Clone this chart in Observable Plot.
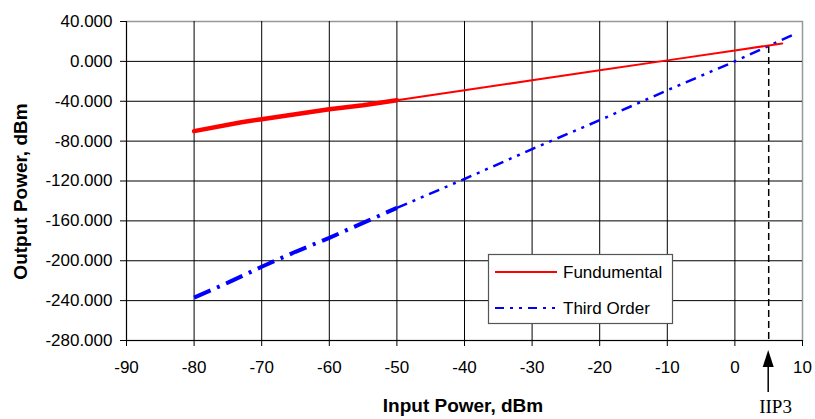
<!DOCTYPE html>
<html>
<head>
<meta charset="utf-8">
<script src="https://cdn.jsdelivr.net/npm/d3@7"></script>
<script src="https://cdn.jsdelivr.net/npm/@observablehq/plot@0.6"></script>
<style>
  html, body { margin: 0; padding: 0; background: #fff; }
</style>
</head>
<body>
<div id="chart"></div>
<script>
// Fundamental output tone vs. input drive (dBm)
const fundInput  = [-80, -73, -70, -65, -60, -55, -50, -40, -30, -20, -10, 0, 7];
const fundOutput = [-70, -61, -58, -53, -48, -44, -39, -29, -19, -9, 1, 11, 18];

// Third-order intermod product vs. input drive (dBm)
const thirdInput  = [-80, -75, -70, -65, -60, -55, -50, -40, -30, -20, -10, 0, 8.7];
const thirdOutput = [-237, -222, -206, -191, -177, -162, -147, -118, -88, -59, -29, 0, 27];

// Dense sweep region (drawn heavier) ends here
const denseSweepEnd = -50;

// Input-referred third-order intercept
const iip3Input = 5;
const iip3Output = 15;
const iip3Label = "IIP3";

const seriesNames = ["Fundumental", "Third Order"];
const xTicks = [-90, -80, -70, -60, -50, -40, -30, -20, -10, 0, 10];
const yTicks = [40, 0, -40, -80, -120, -160, -200, -240, -280];
const xTitle = "Input Power, dBm";
const yTitle = "Output Power, dBm";

const rows = (xs, ys) => xs.map((x, i) => ({x, y: ys[i]}));
const fund = rows(fundInput, fundOutput);
const third = rows(thirdInput, thirdOutput);
const dense = d => d.x <= denseSweepEnd;
const sparse = d => d.x >= denseSweepEnd;

const red = "#ff0000";
const blue = "#0000ff";
const font = "'Liberation Sans', Arial, sans-serif";

// IIP3 arrow below the axis and the boxed legend inside the frame
function annotations(index, scales, values, dims) {
  const g = d3.create("svg:g").attr("text-anchor", "start");
  const ax = scales.x(iip3Input);
  const bottom = dims.height - dims.marginBottom;
  g.append("line")
    .attr("x1", ax).attr("x2", ax)
    .attr("y1", bottom + 52).attr("y2", bottom + 24)
    .attr("stroke", "#000").attr("stroke-width", 1.5);
  g.append("path")
    .attr("d", `M${ax},${bottom + 10}L${ax - 5.5},${bottom + 27}L${ax + 5.5},${bottom + 27}Z`)
    .attr("fill", "#000");
  g.append("text")
    .attr("x", ax - 9).attr("y", bottom + 73)
    .attr("font-family", "'Liberation Serif', 'Times New Roman', serif")
    .attr("font-size", 19)
    .attr("fill", "#000")
    .text(iip3Label);

  const bx = dims.width - dims.marginRight - 314;
  const by = bottom - 17 - 69;
  const lg = g.append("g");
  lg.append("rect")
    .attr("x", bx + 0.5).attr("y", by + 0.5)
    .attr("width", 184).attr("height", 69)
    .attr("fill", "#fff").attr("stroke", "#555").attr("stroke-width", 1.2);
  const items = [
    {name: seriesNames[0], color: red, dash: null, y: 18},
    {name: seriesNames[1], color: blue, dash: "9,6,3,6,3,6", y: 54}
  ];
  for (const it of items) {
    const l = lg.append("line")
      .attr("x1", bx + 7).attr("x2", bx + 69)
      .attr("y1", by + it.y).attr("y2", by + it.y)
      .attr("stroke", it.color).attr("stroke-width", 2);
    if (it.dash) l.attr("stroke-dasharray", it.dash);
    lg.append("text")
      .attr("x", bx + 75).attr("y", by + it.y + 5.5)
      .attr("font-family", font).attr("font-size", 17)
      .attr("fill", "#000")
      .text(it.name);
  }
  return g.node();
}

const chart = Plot.plot({
  width: 815,
  height: 419,
  marginLeft: 126,
  marginRight: 13,
  marginTop: 21,
  marginBottom: 79,
  style: {fontFamily: font, fontSize: "17px", color: "#000", background: "#fff"},
  x: {domain: [-90, 10]},
  y: {domain: [-280, 40]},
  marks: [
    Plot.frame({stroke: "#999", strokeWidth: 1.5}),
    Plot.ruleX(xTicks.filter(d => d < 10), {stroke: "#000", strokeWidth: 1}),
    Plot.ruleY(yTicks.filter(d => d < 40), {stroke: "#000", strokeWidth: 1}),
    Plot.axisX({ticks: xTicks, tickSize: 6, tickPadding: 14, tickFormat: d => String(d), fontSize: 17, label: null}),
    Plot.axisY({ticks: yTicks, tickSize: 6, tickPadding: 8, tickFormat: d => d.toFixed(3), fontSize: 17, label: null}),
    Plot.text([xTitle], {frameAnchor: "bottom", dx: -1.5, dy: 65, text: d => d, fontWeight: "bold", fontSize: 19, textAnchor: "middle", lineAnchor: "middle"}),
    Plot.text([yTitle], {frameAnchor: "left", dx: -106, dy: 10.5, rotate: -90, text: d => d, fontWeight: "bold", fontSize: 19, textAnchor: "middle", lineAnchor: "middle"}),
    Plot.ruleX([iip3Input], {y1: iip3Output, y2: -280, stroke: "#000", strokeWidth: 1.5, strokeDasharray: "7,4"}),
    Plot.line(third.filter(dense), {x: "x", y: "y", stroke: blue, strokeWidth: 4, strokeDasharray: "18,7,3,7", strokeLinecap: "butt"}),
    Plot.line(third.filter(sparse), {x: "x", y: "y", stroke: blue, strokeWidth: 2.5, strokeDasharray: "11,6,3,6,3,6", strokeLinecap: "butt"}),
    Plot.line(fund.filter(dense), {x: "x", y: "y", stroke: red, strokeWidth: 4.5}),
    Plot.line(fund.filter(sparse), {x: "x", y: "y", stroke: red, strokeWidth: 2}),
    annotations
  ]
});
document.getElementById("chart").appendChild(chart);
</script>
</body>
</html>
